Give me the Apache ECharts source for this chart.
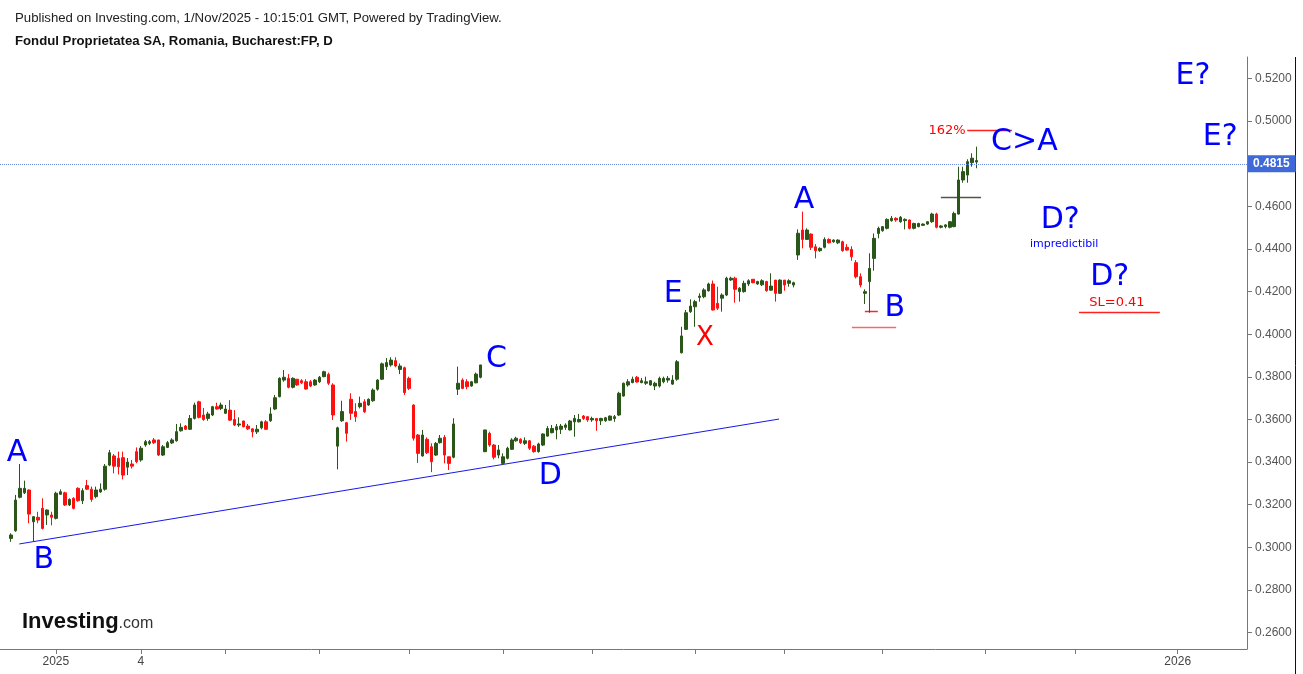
<!DOCTYPE html>
<html>
<head>
<meta charset="utf-8">
<script src="https://cdn.jsdelivr.net/npm/echarts@6/dist/echarts.min.js"></script>
<style>
html,body{margin:0;padding:0;background:#fff;}
#chart{width:1303px;height:674px;}
</style>
</head>
<body>
<div id="chart"></div>
<script>
// Daily candles [open, close, low, high], Bucharest:FP
const ohlc = [
[0.3042,0.3058,0.3026,0.3066],[0.3078,0.3222,0.3073,0.3246],[0.3235,0.3277,0.3230,0.3391],[0.3256,0.3277,0.3250,0.3313],
[0.3269,0.3156,0.3113,0.3272],[0.3120,0.3144,0.3026,0.3146],[0.3141,0.3128,0.3113,0.3167],[0.3183,0.3089,0.3084,0.3230],
[0.3152,0.3175,0.3105,0.3178],[0.3152,0.3141,0.3103,0.3167],[0.3136,0.3254,0.3131,0.3261],[0.3249,0.3261,0.3246,0.3272],
[0.3256,0.3199,0.3194,0.3261],[0.3199,0.3225,0.3194,0.3230],[0.3230,0.3183,0.3178,0.3235],[0.3277,0.3219,0.3214,0.3282],
[0.3219,0.3266,0.3203,0.3277],[0.3290,0.3273,0.3269,0.3316],[0.3273,0.3225,0.3214,0.3285],[0.3238,0.3269,0.3230,0.3285],
[0.3260,0.3273,0.3256,0.3300],[0.3273,0.3381,0.3266,0.3391],[0.3386,0.3444,0.3381,0.3457],[0.3429,0.3381,0.3347,0.3438],
[0.3418,0.3378,0.3342,0.3449],[0.3421,0.3339,0.3319,0.3449],[0.3376,0.3400,0.3339,0.3419],[0.3391,0.3381,0.3370,0.3410],
[0.3449,0.3402,0.3395,0.3469],[0.3410,0.3465,0.3402,0.3475],[0.3480,0.3496,0.3472,0.3504],[0.3488,0.3496,0.3480,0.3504],
[0.3504,0.3491,0.3485,0.3513],[0.3504,0.3433,0.3429,0.3504],[0.3433,0.3472,0.3429,0.3480],[0.3469,0.3491,0.3466,0.3499],
[0.3490,0.3504,0.3485,0.3512],[0.3500,0.3543,0.3496,0.3579],[0.3547,0.3563,0.3543,0.3582],[0.3569,0.3554,0.3551,0.3574],
[0.3554,0.3605,0.3551,0.3621],[0.3605,0.3668,0.3600,0.3679],[0.3683,0.3610,0.3605,0.3688],[0.3621,0.3600,0.3594,0.3654],
[0.3605,0.3626,0.3594,0.3636],[0.3621,0.3660,0.3616,0.3664],[0.3660,0.3649,0.3647,0.3679],[0.3652,0.3668,0.3644,0.3679],
[0.3629,0.3649,0.3626,0.3668],[0.3644,0.3597,0.3594,0.3691],[0.3600,0.3574,0.3569,0.3644],[0.3574,0.3579,0.3565,0.3610],
[0.3593,0.3566,0.3563,0.3594],[0.3569,0.3556,0.3551,0.3579],[0.3556,0.3542,0.3516,0.3559],[0.3542,0.3554,0.3532,0.3574],
[0.3561,0.3589,0.3554,0.3594],[0.3589,0.3554,0.3551,0.3597],[0.3594,0.3626,0.3589,0.3657],[0.3649,0.3702,0.3644,0.3715],
[0.3707,0.3793,0.3704,0.3798],[0.3785,0.3798,0.3777,0.3832],[0.3793,0.3751,0.3746,0.3813],[0.3751,0.3793,0.3746,0.3798],
[0.3789,0.3762,0.3758,0.3789],[0.3782,0.3772,0.3766,0.3789],[0.3777,0.3743,0.3740,0.3789],[0.3777,0.3757,0.3752,0.3785],
[0.3762,0.3785,0.3758,0.3790],[0.3777,0.3798,0.3771,0.3804],[0.3801,0.3824,0.3798,0.3829],[0.3812,0.3770,0.3762,0.3820],
[0.3762,0.3621,0.3598,0.3770],[0.3475,0.3561,0.3366,0.3566],[0.3594,0.3637,0.3589,0.3688],[0.3585,0.3535,0.3496,0.3589],
[0.3695,0.3629,0.3598,0.3723],[0.3637,0.3613,0.3589,0.3676],[0.3660,0.3676,0.3652,0.3707],[0.3683,0.3636,0.3631,0.3695],
[0.3668,0.3695,0.3664,0.3699],[0.3688,0.3738,0.3683,0.3746],[0.3742,0.3785,0.3735,0.3789],[0.3789,0.3861,0.3785,0.3867],
[0.3848,0.3867,0.3832,0.3888],[0.3856,0.3879,0.3848,0.3892],[0.3876,0.3851,0.3845,0.3892],[0.3835,0.3851,0.3813,0.3863],
[0.3843,0.3726,0.3715,0.3848],[0.3793,0.3746,0.3738,0.3801],[0.3668,0.3512,0.3501,0.3671],[0.3527,0.3441,0.3396,0.3532],
[0.3429,0.3527,0.3426,0.3551],[0.3507,0.3444,0.3438,0.3516],[0.3472,0.3402,0.3353,0.3488],[0.3433,0.3488,0.3429,0.3494],
[0.3491,0.3512,0.3487,0.3527],[0.3516,0.3433,0.3394,0.3527],[0.3425,0.3394,0.3363,0.3425],[0.3423,0.3579,0.3418,0.3606],
[0.3742,0.3770,0.3715,0.3848],[0.3785,0.3746,0.3742,0.3793],[0.3777,0.3754,0.3742,0.3789],[0.3757,0.3777,0.3754,0.3781],
[0.3772,0.3813,0.3770,0.3820],[0.3798,0.3856,0.3793,0.3856],[0.3449,0.3551,0.3447,0.3551],[0.3535,0.3480,0.3472,0.3543],
[0.3480,0.3423,0.3413,0.3485],[0.3433,0.3457,0.3418,0.3480],[0.3394,0.3425,0.3386,0.3441],[0.3418,0.3465,0.3413,0.3472],
[0.3460,0.3504,0.3457,0.3512],[0.3500,0.3512,0.3496,0.3519],[0.3507,0.3491,0.3485,0.3512],[0.3488,0.3500,0.3480,0.3516],
[0.3500,0.3465,0.3457,0.3504],[0.3475,0.3449,0.3444,0.3480],[0.3449,0.3485,0.3444,0.3491],[0.3480,0.3532,0.3475,0.3535],
[0.3522,0.3558,0.3519,0.3569],[0.3538,0.3558,0.3535,0.3574],[0.3551,0.3566,0.3507,0.3579],[0.3554,0.3569,0.3532,0.3579],
[0.3563,0.3574,0.3551,0.3582],[0.3551,0.3593,0.3548,0.3598],[0.3589,0.3605,0.3519,0.3621],[0.3589,0.3600,0.3586,0.3626],
[0.3616,0.3605,0.3598,0.3621],[0.3613,0.3598,0.3589,0.3616],[0.3598,0.3605,0.3589,0.3613],[0.3605,0.3594,0.3547,0.3605],
[0.3594,0.3605,0.3574,0.3608],[0.3594,0.3608,0.3589,0.3612],[0.3597,0.3616,0.3594,0.3619],[0.3605,0.3613,0.3589,0.3621],
[0.3621,0.3723,0.3616,0.3730],[0.3710,0.3770,0.3707,0.3773],[0.3762,0.3777,0.3754,0.3789],[0.3773,0.3789,0.3770,0.3801],
[0.3798,0.3776,0.3773,0.3804],[0.3773,0.3782,0.3770,0.3795],[0.3770,0.3777,0.3762,0.3801],[0.3762,0.3782,0.3759,0.3785],
[0.3757,0.3770,0.3738,0.3777],[0.3757,0.3793,0.3750,0.3801],[0.3777,0.3793,0.3770,0.3801],[0.3785,0.3793,0.3773,0.3804],
[0.3766,0.3785,0.3762,0.3808],[0.3789,0.3871,0.3782,0.3879],[0.3913,0.3992,0.3910,0.4035],[0.4023,0.4101,0.4020,0.4114],
[0.4106,0.4132,0.4100,0.4164],[0.4129,0.4153,0.4035,0.4161],[0.4173,0.4179,0.4153,0.4192],[0.4176,0.4208,0.4169,0.4216],
[0.4204,0.4236,0.4200,0.4242],[0.4236,0.4114,0.4111,0.4252],[0.4145,0.4122,0.4114,0.4223],[0.4169,0.4184,0.4106,0.4192],
[0.4184,0.4263,0.4179,0.4270],[0.4255,0.4263,0.4250,0.4270],[0.4263,0.4211,0.4148,0.4270],[0.4200,0.4216,0.4153,0.4221],
[0.4200,0.4239,0.4195,0.4251],[0.4236,0.4251,0.4226,0.4258],[0.4258,0.4242,0.4239,0.4258],[0.4236,0.4247,0.4232,0.4251],
[0.4232,0.4251,0.4226,0.4258],[0.4247,0.4204,0.4200,0.4251],[0.4207,0.4226,0.4204,0.4286],[0.4254,0.4192,0.4153,0.4254],
[0.4192,0.4254,0.4189,0.4258],[0.4254,0.4231,0.4204,0.4254],[0.4239,0.4251,0.4223,0.4258],[0.4231,0.4242,0.4220,0.4247],
[0.4372,0.4474,0.4349,0.4492],[0.4489,0.4445,0.4403,0.4575],[0.4445,0.4489,0.4442,0.4497],[0.4470,0.4408,0.4395,0.4474],
[0.4410,0.4392,0.4356,0.4423],[0.4392,0.4403,0.4387,0.4408],[0.4408,0.4445,0.4403,0.4455],[0.4445,0.4429,0.4426,0.4450],
[0.4434,0.4442,0.4429,0.4445],[0.4429,0.4442,0.4423,0.4445],[0.4434,0.4392,0.4387,0.4439],[0.4408,0.4395,0.4392,0.4423],
[0.4398,0.4364,0.4345,0.4413],[0.4336,0.4270,0.4262,0.4348],[0.4270,0.4231,0.4220,0.4286],[0.4192,0.4200,0.4142,0.4211],
[0.4247,0.4309,0.4101,0.4380],[0.4356,0.4450,0.4298,0.4473],[0.4473,0.4497,0.4450,0.4505],[0.4486,0.4505,0.4481,0.4508],
[0.4497,0.4539,0.4492,0.4544],[0.4533,0.4544,0.4528,0.4555],[0.4544,0.4536,0.4528,0.4549],[0.4528,0.4549,0.4523,0.4555],
[0.4533,0.4539,0.4492,0.4544],[0.4536,0.4497,0.4492,0.4539],[0.4497,0.4520,0.4492,0.4523],[0.4505,0.4520,0.4502,0.4523],
[0.4511,0.4517,0.4508,0.4520],[0.4517,0.4528,0.4513,0.4531],[0.4528,0.4564,0.4523,0.4570],[0.4564,0.4502,0.4497,0.4570],
[0.4502,0.4508,0.4497,0.4513],[0.4505,0.4513,0.4497,0.4517],[0.4502,0.4528,0.4497,0.4531],[0.4505,0.4567,0.4502,0.4575],
[0.4564,0.4724,0.4562,0.4786],[0.4724,0.4763,0.4711,0.4786],[0.4747,0.4810,0.4711,0.4821],[0.4805,0.4826,0.4786,0.4849],
[0.4808,0.4815,0.4779,0.4880]
];
const lastPrice = 0.4815;
const leadBlank = 2;      // empty bars before first candle
const futureBars = 60;    // empty bars to the right (future)

// x-axis month ticks (category index) and their labels
const monthTickIdx = [12, 31, 50, 71, 91, 112, 132, 155, 175, 197, 220, 240, 263];
const monthLabels  = ['2025', '4', '', '', '', '', '', '', '', '', '', '', '2026'];

// y-axis ticks
const yTicks = [0.26,0.28,0.30,0.32,0.34,0.36,0.38,0.40,0.42,0.44,0.46,0.48,0.50,0.52];
const yMin = 0.2523, yMax = 0.5301;

// drawings: [barIndex, price]
const trendLine = [[3.82, 0.3016], [173.8, 0.3602]];
const hSegments = [
  {x: [190.1, 200.0], y: 0.4035, color: '#f26b6b'},
  {x: [193.0, 195.9], y: 0.4107, color: '#e83030'},
  {x: [215.9, 225.9], y: 0.4956, color: '#ff2020'},
  {x: [210.0, 219.0], y: 0.4643, color: '#4d5a40'},
  {x: [240.9, 259.0], y: 0.4104, color: '#ff2020'}
];
// texts: [barIndex, price, text, colour, size]
const notes = [
  [3.3, 0.3440, 'A', '#0000ff', 30],
  [9.3, 0.2941, 'B', '#0000ff', 30],
  [110.6, 0.3884, 'C', '#0000ff', 30],
  [122.6, 0.3335, 'D', '#0000ff', 30],
  [150.1, 0.4189, 'E', '#0000ff', 30],
  [157.2, 0.3982, 'X', '#ff0000', 26],
  [179.4, 0.4630, 'A', '#0000ff', 30],
  [199.7, 0.4121, 'B', '#0000ff', 30],
  [228.7, 0.4900, 'C>A', '#0000ff', 30],
  [236.7, 0.4534, 'D?', '#0000ff', 30],
  [237.6, 0.4423, 'impredictibil', '#0000ff', 11],
  [247.8, 0.4269, 'D?', '#0000ff', 30],
  [249.4, 0.4147, 'SL=0.41', '#ff0000', 13],
  [266.4, 0.5212, 'E?', '#0000ff', 30],
  [272.5, 0.4925, 'E?', '#0000ff', 30],
  [211.4, 0.4954, '162%', '#ff0000', 13]
];

const nBars = leadBlank + ohlc.length + futureBars;
const categories = Array.from({length: nBars}, (_, i) => String(i));
const candleData = categories.map((_, i) => {
  const k = i - leadBlank;
  return (k >= 0 && k < ohlc.length) ? ohlc[k] : '-';
});
const tickSet = new Set(monthTickIdx);
const labelMap = {};
monthTickIdx.forEach((v, i) => labelMap[v] = monthLabels[i]);

const UP = '#2a5619', DOWN = '#ff1010';
const AXIS = '#777777';

const chart = echarts.init(document.getElementById('chart'), null, {renderer: 'canvas'});
chart.setOption({
  animation: false,
  backgroundColor: '#ffffff',
  textStyle: {fontFamily: 'Liberation Sans, Arial, sans-serif'},
  title: [
    {text: 'Published on Investing.com, 1/Nov/2025 - 10:15:01 GMT, Powered by TradingView.',
     left: 10, top: 7, textStyle: {fontSize: 13.2, fontWeight: 'normal', color: '#222', fontFamily: 'Liberation Sans'}},
    {text: 'Fondul Proprietatea SA, Romania, Bucharest:FP, D',
     left: 10, top: 30, textStyle: {fontSize: 13.2, fontWeight: 'bold', color: '#111', fontFamily: 'Liberation Sans'}}
  ],
  graphic: [
    {type: 'text', left: 22, top: 611, silent: true,
     style: {text: '{a|Investing}{b|.com}', rich: {
       a: {fontSize: 22, fontWeight: 'bold', fill: '#111', fontFamily: 'Liberation Sans'},
       b: {fontSize: 16, fill: '#333', fontFamily: 'Liberation Sans', padding: [4, 0, 0, 0]}}}},
    {type: 'line', silent: true, shape: {x1: 1295.5, y1: 57, x2: 1295.5, y2: 674},
     style: {stroke: '#111', lineWidth: 1}}
  ],
  grid: {left: 0, right: 56, top: 57, bottom: 25, containLabel: false},
  xAxis: [
    {type: 'category', data: categories, boundaryGap: true,
     axisLine: {onZero: false, lineStyle: {color: AXIS}},
     axisTick: {show: true, alignWithLabel: true, length: 5, lineStyle: {color: AXIS},
                interval: (i) => tickSet.has(i)},
     axisLabel: {interval: (i) => tickSet.has(i), formatter: (v, i) => labelMap[i] || '',
                 color: '#444', fontSize: 12, margin: 7, fontFamily: 'Liberation Sans'},
     splitLine: {show: false}},
    {type: 'value', min: -0.5, max: nBars - 0.5, show: false}
  ],
  yAxis: {
    type: 'value', position: 'right', min: yMin, max: yMax, scale: true,
    axisLine: {show: true, onZero: false, lineStyle: {color: AXIS}},
    axisTick: {show: true, length: 5, lineStyle: {color: AXIS}, customValues: yTicks},
    axisLabel: {color: '#555', fontSize: 12, margin: 8, fontFamily: 'Liberation Sans',
                customValues: yTicks, formatter: (v) => v.toFixed(4)},
    splitLine: {show: false}
  },
  series: [
    {type: 'candlestick', xAxisIndex: 0, data: candleData, barWidth: 3,
     itemStyle: {color: UP, color0: DOWN, borderColor: UP, borderColor0: DOWN, borderWidth: 1},
     markLine: {silent: true, symbol: 'none', animation: false,
       data: [{yAxis: lastPrice}],
       lineStyle: {color: '#6a8ae6', type: 'dotted', width: 1, opacity: 1},
       label: {show: true, position: 'end', distance: 1, formatter: lastPrice.toFixed(4),
               backgroundColor: '#3f69d9', color: '#fff', fontWeight: 'bold', fontSize: 12,
               padding: [3, 6, 2, 5], fontFamily: 'Liberation Sans'}}},
    {type: 'lines', coordinateSystem: 'cartesian2d', xAxisIndex: 1, silent: true,
     data: [{coords: trendLine, lineStyle: {color: '#1818e6', width: 1, opacity: 1}}].concat(
       hSegments.map(s => ({coords: [[s.x[0], s.y], [s.x[1], s.y]], lineStyle: {color: s.color, width: 1.3, opacity: 1}}))),
     lineStyle: {width: 1, opacity: 1}},
    {type: 'scatter', xAxisIndex: 1, symbolSize: 0, silent: true,
     itemStyle: {opacity: 1},
     data: notes.map(n => ({value: [n[0], n[1]], label: {show: true, position: 'inside',
        formatter: n[2], color: n[3], fontSize: n[4], fontFamily: 'DejaVu Sans', opacity: 1}})),
     label: {show: true}}
  ]
});
</script>
</body>
</html>
